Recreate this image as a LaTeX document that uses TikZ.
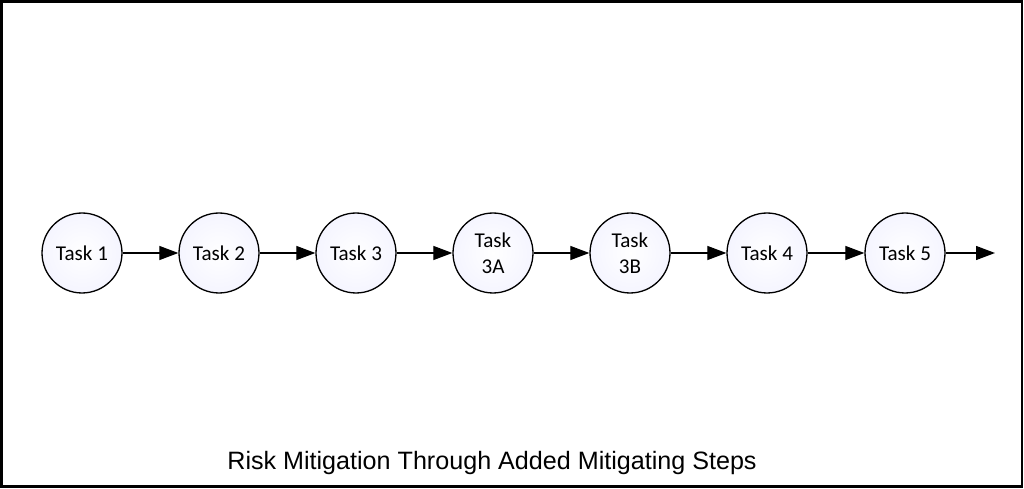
\documentclass[tikz,border=0pt]{standalone}
\usepackage{fontspec}
\setmainfont{Carlito}
\newfontfamily\titlefont{Liberation Sans}
\usetikzlibrary{arrows.meta, positioning}

\begin{document}
\begin{tikzpicture}[x=0.02cm, y=-0.02cm,
    task/.style={circle, draw, line width=0.75pt, minimum size=1.6cm, inner sep=0pt,
        align=center, font=\fontsize{12}{15}\selectfont,
        inner color=white, outer color=blue!4!white},
    flow/.style={-{Triangle[length=0.38cm, width=0.28cm]}, line width=0.7pt}]
    \useasboundingbox (0,0) rectangle (1024,489);
    \draw[line width=1.4pt] (1.5,1.5) rectangle (1022,486.5);

    % tasks in a row
    \foreach \i/\x/\txt in {1/82/Task 1, 2/219/Task 2, 3/356/Task 3, 4/493/Task\\3A,
                            5/630/Task\\3B, 6/767/Task 4, 7/905/Task 5}
        \node[task] (t\i) at (\x,253) {\txt};

    \foreach \a/\b in {1/2, 2/3, 3/4, 4/5, 5/6, 6/7}
        \draw[flow] (t\a) -- (t\b);
    \coordinate (out) at (995,253);
    \draw[flow] (t7) -- (out);

    \node[font=\titlefont\fontsize{14.3}{16}\selectfont] (title) at (492,463)
        {Risk Mitigation Through Added Mitigating Steps};
\end{tikzpicture}
\end{document}
